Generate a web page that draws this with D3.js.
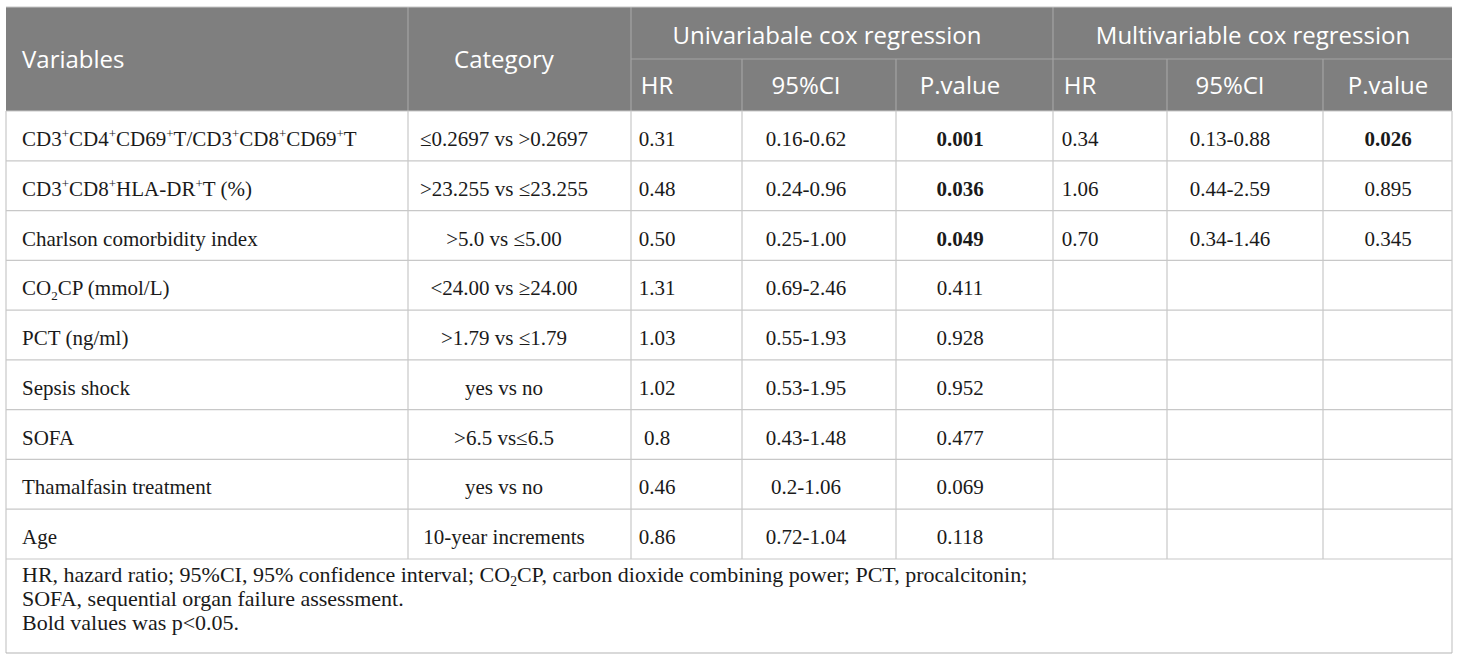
<!DOCTYPE html>
<html>
<head>
<meta charset="utf-8">
<script src="https://cdn.jsdelivr.net/npm/d3@7"></script>
<style>
  body { margin: 0; background: #fff; }
  svg { display: block; }
</style>
</head>
<body>
<svg width="1460" height="661"></svg>
<script>
// table content ("^x" = superscript x, "_x" = subscript x)
var variables = ["CD3^+CD4^+CD69^+T/CD3^+CD8^+CD69^+T", "CD3^+CD8^+HLA-DR^+T (%)", "Charlson comorbidity index",
  "CO_2CP (mmol/L)", "PCT (ng/ml)", "Sepsis shock", "SOFA", "Thamalfasin treatment", "Age"];
var categories = ["≤0.2697 vs >0.2697", ">23.255 vs ≤23.255", ">5.0 vs ≤5.00", "<24.00 vs ≥24.00",
  ">1.79 vs ≤1.79", "yes vs no", ">6.5 vs≤6.5", "yes vs no", "10-year increments"];
var uniHR = ["0.31", "0.48", "0.50", "1.31", "1.03", "1.02", "0.8", "0.46", "0.86"];
var uniCI = ["0.16-0.62", "0.24-0.96", "0.25-1.00", "0.69-2.46", "0.55-1.93", "0.53-1.95", "0.43-1.48", "0.2-1.06", "0.72-1.04"];
var uniP = ["0.001", "0.036", "0.049", "0.411", "0.928", "0.952", "0.477", "0.069", "0.118"];
var multiHR = ["0.34", "1.06", "0.70", "", "", "", "", "", ""];
var multiCI = ["0.13-0.88", "0.44-2.59", "0.34-1.46", "", "", "", "", "", ""];
var multiP = ["0.026", "0.895", "0.345", "", "", "", "", "", ""];
var groupHeaders = ["Univariabale cox regression", "Multivariable cox regression"];
var subHeaders = ["HR", "95%CI", "P.value", "HR", "95%CI", "P.value"];
var footnotes = ["HR, hazard ratio; 95%CI, 95% confidence interval; CO_2CP, carbon dioxide combining power; PCT, procalcitonin;",
  "SOFA, sequential organ failure assessment.",
  "Bold values was p<0.05."];

// layout
var edges = [6, 408, 631, 742, 896, 1053, 1167, 1323, 1452];
var anchors = [22, 504, 657, 806, 960, 1080, 1230, 1388];  // text x for each column
var groupX = [827, 1253];
var tableTop = 7, midY = 59, headBottom = 111, bodyBottom = 559, tableBottom = 653;
var serif = "'Liberation Serif', 'Times New Roman', serif";
var sans = "'Open Sans', 'Noto Sans', sans-serif";
var bodySize = 21, noteSize = 22;

var svg = d3.select("svg");
var y = d3.scaleBand().domain(d3.range(variables.length)).range([headBottom, bodyBottom]);

// writes a string with ^/_ markup into a text element
function rich(sel, str, size) {
  var parts = str.split(/(\^.|_.)/).filter(function(s){ return s !== ""; });
  var cur = 0;
  parts.forEach(function(p){
    var off = 0, txt = p, small = false;
    if (p[0] == "^") { off = -size * 0.38; txt = p[1]; small = true; }
    else if (p[0] == "_") { off = size * 0.2; txt = p[1]; small = true; }
    var t = sel.append("tspan").attr("dy", off - cur).text(txt);
    if (small) t.attr("font-size", size * 0.62);
    cur = off;
  });
}

// header background
svg.append("rect").attr("x", edges[0]).attr("y", tableTop)
  .attr("width", edges[8] - edges[0]).attr("height", headBottom - tableTop)
  .attr("fill", "#7f7f7f");

var hl = svg.append("g").attr("stroke", "#a3a3a3").attr("stroke-width", 1.2);
hl.append("line").attr("x1", edges[2]).attr("x2", edges[8]).attr("y1", midY).attr("y2", midY);
[1, 2, 5].forEach(function(i){
  hl.append("line").attr("x1", edges[i]).attr("x2", edges[i]).attr("y1", tableTop).attr("y2", headBottom);
});
[3, 4, 6, 7].forEach(function(i){
  hl.append("line").attr("x1", edges[i]).attr("x2", edges[i]).attr("y1", midY).attr("y2", headBottom);
});

var ht = svg.append("g").attr("fill", "#fff").attr("font-family", sans).attr("font-size", 24);
ht.append("text").attr("x", anchors[0]).attr("y", 68).text("Variables");
ht.append("text").attr("x", anchors[1]).attr("y", 68).attr("text-anchor", "middle").text("Category");
ht.selectAll(".grp").data(groupHeaders).enter().append("text")
  .attr("x", function(d, i){ return groupX[i]; })
  .attr("y", 44).attr("text-anchor", "middle").text(function(d){ return d; });
ht.selectAll(".sub").data(subHeaders).enter().append("text")
  .attr("x", function(d, i){ return anchors[i + 2]; })
  .attr("y", 94).attr("text-anchor", "middle").text(function(d){ return d; });

// body grid
var gl = svg.append("g").attr("stroke", "#c8c8c8").attr("stroke-width", 1.2);
d3.range(variables.length + 1).forEach(function(i){
  var yy = i < variables.length ? y(i) : bodyBottom;
  gl.append("line").attr("x1", edges[0]).attr("x2", edges[8]).attr("y1", yy).attr("y2", yy);
});
edges.forEach(function(e, i){
  gl.append("line").attr("x1", e).attr("x2", e).attr("y1", headBottom)
    .attr("y2", (i == 0 || i == 8) ? tableBottom : bodyBottom);
});
gl.append("line").attr("x1", edges[0]).attr("x2", edges[8]).attr("y1", tableBottom).attr("y2", tableBottom)
  .attr("stroke", "#b4b4b4");
gl.append("line").attr("x1", edges[0]).attr("x2", edges[8]).attr("y1", tableTop).attr("y2", tableTop);

// body text
var body = svg.append("g").attr("fill", "#1a1a1a").attr("font-family", serif).attr("font-size", bodySize);
var cols = [variables, categories, uniHR, uniCI, uniP, multiHR, multiCI, multiP];
cols.forEach(function(col, c){
  body.selectAll(".c" + c).data(col).enter().append("text")
    .attr("x", anchors[c])
    .attr("y", function(d, i){ return y(i) + 35; })
    .attr("text-anchor", c == 0 ? "start" : "middle")
    .attr("font-weight", function(d){ return (c == 4 || c == 7) && d !== "" && +d < 0.05 ? "bold" : "normal"; })
    .each(function(d){ rich(d3.select(this), d, bodySize); });
});

// footnotes
var fn = svg.append("g").attr("fill", "#1a1a1a").attr("font-family", serif).attr("font-size", noteSize);
fn.selectAll("text").data(footnotes).enter().append("text")
  .attr("x", 22).attr("y", function(d, i){ return 582 + i * 24; })
  .each(function(d){ rich(d3.select(this), d, noteSize); });
</script>
</body>
</html>
